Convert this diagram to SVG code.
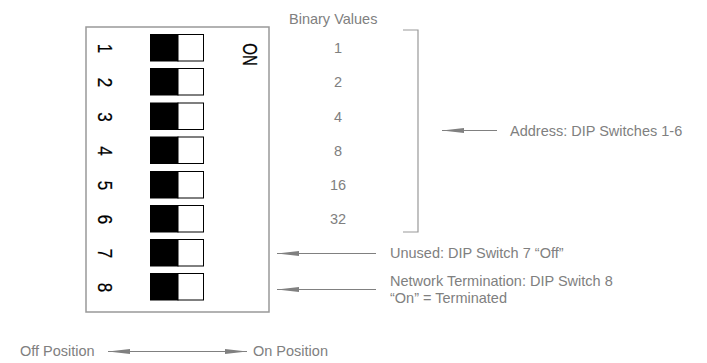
<svg xmlns="http://www.w3.org/2000/svg" width="707" height="363" viewBox="0 0 707 363">
<style>
.lbl{font-family:"Liberation Sans",Arial,sans-serif;font-size:14.5px;fill:#808080}
.val{font-family:"Liberation Sans",Arial,sans-serif;font-size:14.5px;fill:#808080;text-anchor:middle}
.dig{font-family:"Liberation Sans",Arial,sans-serif;font-size:17px;fill:#000;stroke:#000;stroke-width:0.2;text-anchor:middle}
.on{fill:#000;stroke:#000;stroke-width:1}
.off{fill:#fff;stroke:#000;stroke-width:1}
.ln{stroke:#808080;stroke-width:1;fill:none}
.br{stroke:#999;stroke-width:1.2;fill:none}
</style>
<defs>
<marker id="ah" viewBox="0 0 22 6" refX="22" refY="3" markerWidth="22" markerHeight="6" markerUnits="userSpaceOnUse" orient="auto-start-reverse">
<path d="M22,3 L0,0.6 L0,5.4 Z" fill="#808080"/>
</marker>
</defs>
<g id="dip-body">
<rect x="86" y="27" width="183" height="285" fill="#fff" stroke="#999" stroke-width="1.5"/>
<text class="dig" transform="translate(243,54.5) rotate(90) scale(1,1.36)" style="font-size:15px">ON</text>
</g>
<g id="switch1"><rect class="on" x="150.5" y="34.5" width="27.5" height="26.5"/><rect class="off" x="178" y="34.5" width="25.5" height="26.5"/><text class="dig" transform="translate(98,48.5) rotate(90) scale(1,1.2)">1</text></g>
<g id="switch2"><rect class="on" x="150.5" y="68.5" width="27.5" height="26.5"/><rect class="off" x="178" y="68.5" width="25.5" height="26.5"/><text class="dig" transform="translate(98,82.5) rotate(90) scale(1,1.2)">2</text></g>
<g id="switch3"><rect class="on" x="150.5" y="103" width="27.5" height="26.5"/><rect class="off" x="178" y="103" width="25.5" height="26.5"/><text class="dig" transform="translate(98,117) rotate(90) scale(1,1.2)">3</text></g>
<g id="switch4"><rect class="on" x="150.5" y="137" width="27.5" height="26.5"/><rect class="off" x="178" y="137" width="25.5" height="26.5"/><text class="dig" transform="translate(98,151) rotate(90) scale(1,1.2)">4</text></g>
<g id="switch5"><rect class="on" x="150.5" y="171.5" width="27.5" height="26.5"/><rect class="off" x="178" y="171.5" width="25.5" height="26.5"/><text class="dig" transform="translate(98,185.5) rotate(90) scale(1,1.2)">5</text></g>
<g id="switch6"><rect class="on" x="150.5" y="205.5" width="27.5" height="26.5"/><rect class="off" x="178" y="205.5" width="25.5" height="26.5"/><text class="dig" transform="translate(98,219.5) rotate(90) scale(1,1.2)">6</text></g>
<g id="switch7"><rect class="on" x="150.5" y="239.5" width="27.5" height="26.5"/><rect class="off" x="178" y="239.5" width="25.5" height="26.5"/><text class="dig" transform="translate(98,253.5) rotate(90) scale(1,1.2)">7</text></g>
<g id="switch8"><rect class="on" x="150.5" y="273.5" width="27.5" height="26.5"/><rect class="off" x="178" y="273.5" width="25.5" height="26.5"/><text class="dig" transform="translate(98,287.5) rotate(90) scale(1,1.2)">8</text></g>
<g id="binary-values">
<text class="lbl" x="289" y="23.5">Binary Values</text>
<text class="val" x="338" y="53">1</text>
<text class="val" x="338" y="87">2</text>
<text class="val" x="338" y="121.5">4</text>
<text class="val" x="338" y="156">8</text>
<text class="val" x="338" y="190">16</text>
<text class="val" x="338" y="224">32</text>
<path class="br" d="M403,30 H418 V232 H403"/>
</g>
<g id="labels">
<text class="lbl" x="510" y="135.5">Address: DIP Switches 1-6</text>
<text class="lbl" x="390" y="258">Unused: DIP Switch 7 “Off”</text>
<text class="lbl" x="390" y="286">Network Termination: DIP Switch 8</text>
<text class="lbl" x="390" y="303">“On” = Terminated</text>
<text class="lbl" x="20" y="356">Off Position</text>
<text class="lbl" x="253" y="356">On Position</text>
</g>
<g id="connectors">
<line class="ln" x1="442" y1="130.5" x2="497" y2="130.5" marker-start="url(#ah)"/>
<line class="ln" x1="277" y1="253.5" x2="376" y2="253.5" marker-start="url(#ah)"/>
<line class="ln" x1="277" y1="289.5" x2="376" y2="289.5" marker-start="url(#ah)"/>
<line class="ln" x1="108" y1="351.5" x2="247" y2="351.5" marker-start="url(#ah)" marker-end="url(#ah)"/>
</g>
</svg>
